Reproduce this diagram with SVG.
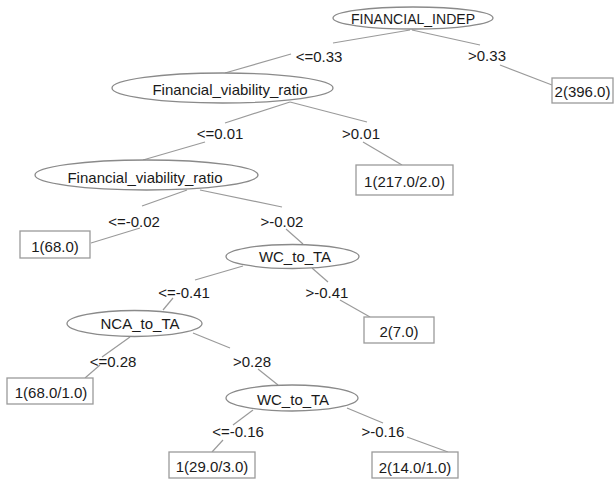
<svg xmlns="http://www.w3.org/2000/svg" width="615" height="479" viewBox="0 0 615 479">
<style>
text{font-family:"Liberation Sans",Arial,sans-serif;font-size:15px;fill:#1a1a1a;text-anchor:middle;dominant-baseline:central}
.node ellipse{fill:#fff;stroke:#8a8a8a;stroke-width:1.3}
.leaf rect{fill:#fff;stroke:#9a9a9a;stroke-width:1.3}
#connectors line{stroke:#9a9a9a;stroke-width:1.2}
</style>
<rect width="615" height="479" fill="#fff"/>
<g id="connectors">
<line x1="410" y1="30" x2="333" y2="43"/>
<line x1="291" y1="54" x2="225" y2="73"/>
<line x1="412" y1="30" x2="480" y2="45"/>
<line x1="500" y1="65" x2="552" y2="85"/>
<line x1="290" y1="102" x2="225" y2="123"/>
<line x1="205" y1="142" x2="143" y2="160"/>
<line x1="290" y1="102" x2="367" y2="122"/>
<line x1="363" y1="142" x2="402" y2="165"/>
<line x1="187" y1="190" x2="142" y2="206"/>
<line x1="140" y1="228" x2="91" y2="243"/>
<line x1="200" y1="190" x2="282" y2="207"/>
<line x1="286" y1="229" x2="303" y2="244"/>
<line x1="243" y1="266" x2="195" y2="280"/>
<line x1="173" y1="298" x2="163" y2="310"/>
<line x1="312" y1="268" x2="328" y2="282"/>
<line x1="340" y1="300" x2="370" y2="317"/>
<line x1="130" y1="337" x2="102" y2="357"/>
<line x1="100" y1="365" x2="85" y2="378"/>
<line x1="193" y1="333" x2="230" y2="348"/>
<line x1="258" y1="369" x2="278" y2="385"/>
<line x1="253" y1="410" x2="233" y2="425"/>
<line x1="223" y1="440" x2="212" y2="452"/>
<line x1="347" y1="408" x2="383" y2="423"/>
<line x1="407" y1="437" x2="448" y2="452"/>
</g>
<g id="edge-labels">
<text x="319" y="56">&lt;=0.33</text>
<text x="487" y="55">&gt;0.33</text>
<text x="220" y="133">&lt;=0.01</text>
<text x="361" y="133">&gt;0.01</text>
<text x="134" y="221">&lt;=-0.02</text>
<text x="282" y="221">&gt;-0.02</text>
<text x="184" y="292">&lt;=-0.41</text>
<text x="327" y="292">&gt;-0.41</text>
<text x="113" y="361">&lt;=0.28</text>
<text x="252" y="361">&gt;0.28</text>
<text x="238" y="431">&lt;=-0.16</text>
<text x="383" y="431">&gt;-0.16</text>
</g>
<g id="n-root" class="node"><ellipse cx="413" cy="18" rx="80" ry="11"/><text x="413" y="18" textLength="124" lengthAdjust="spacingAndGlyphs">FINANCIAL_INDEP</text></g>
<g id="n-fvr1" class="node"><ellipse cx="222.5" cy="88" rx="110.5" ry="15"/><text x="230" y="89">Financial_viability_ratio</text></g>
<g id="n-fvr2" class="node"><ellipse cx="146.5" cy="175" rx="111.5" ry="15"/><text x="145" y="177">Financial_viability_ratio</text></g>
<g id="n-wc1" class="node"><ellipse cx="292.5" cy="256.5" rx="66.5" ry="12"/><text x="295" y="256">WC_to_TA</text></g>
<g id="n-nca" class="node"><ellipse cx="134.5" cy="323.5" rx="67.5" ry="13"/><text x="140" y="323">NCA_to_TA</text></g>
<g id="n-wc2" class="node"><ellipse cx="292" cy="398" rx="66" ry="13"/><text x="293" y="399">WC_to_TA</text></g>
<g id="l-396" class="leaf"><rect x="552" y="78" width="61" height="25"/><text x="582.5" y="91">2(396.0)</text></g>
<g id="l-217" class="leaf"><rect x="356" y="165" width="97" height="30"/><text x="404.5" y="181">1(217.0/2.0)</text></g>
<g id="l-68" class="leaf"><rect x="20" y="231" width="70" height="27"/><text x="55" y="246">1(68.0)</text></g>
<g id="l-7" class="leaf"><rect x="364" y="317" width="70" height="26"/><text x="399" y="331">2(7.0)</text></g>
<g id="l-68b" class="leaf"><rect x="7" y="378" width="86" height="26"/><text x="51" y="392">1(68.0/1.0)</text></g>
<g id="l-29" class="leaf"><rect x="169" y="452" width="86" height="26"/><text x="212" y="466">1(29.0/3.0)</text></g>
<g id="l-14" class="leaf"><rect x="372" y="452" width="86" height="26"/><text x="415" y="467">2(14.0/1.0)</text></g>
</svg>
